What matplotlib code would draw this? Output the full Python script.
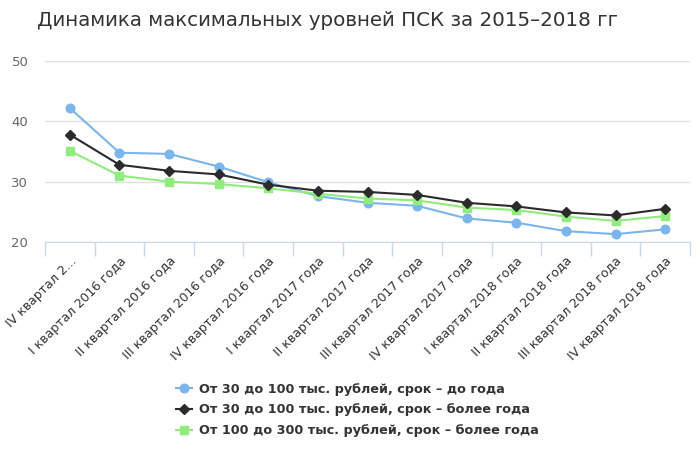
import matplotlib
matplotlib.use("Agg")
import matplotlib.pyplot as plt
import numpy as np

categories = ["IV квартал 2...", "I квартал 2016 года", "II квартал 2016 года",
              "III квартал 2016 года", "IV квартал 2016 года", "I квартал 2017 года",
              "II квартал 2017 года", "III квартал 2017 года", "IV квартал 2017 года",
              "I квартал 2018 года", "II квартал 2018 года", "III квартал 2018 года",
              "IV квартал 2018 года"]
series_names = ["От 30 до 100 тыс. рублей, срок – до года",
                "От 30 до 100 тыс. рублей, срок – более года",
                "От 100 до 300 тыс. рублей, срок – более года"]
s1 = [42.2, 34.8, 34.6, 32.5, 29.9, 27.6, 26.5, 26.0, 23.9, 23.2, 21.8, 21.3, 22.1]
s2 = [37.8, 32.8, 31.8, 31.2, 29.5, 28.5, 28.3, 27.8, 26.5, 25.9, 24.9, 24.4, 25.5]
s3 = [35.1, 31.0, 30.0, 29.6, 28.9, 28.0, 27.2, 26.9, 25.7, 25.3, 24.2, 23.5, 24.3]
yticks = [20, 30, 40, 50]

plt.rcParams['font.family'] = ['DejaVu Sans']
fig = plt.figure(figsize=(7, 4.66), dpi=100)
ax = fig.add_axes([45/700, 1-242/466, 645/700, (242-61)/466])

x = np.arange(len(categories))
ax.plot(x, s1, color='#7cb5ec', lw=1.5, marker='o', ms=6.2, mec='#7cb5ec', label=series_names[0], zorder=3)
ax.plot(x, s2, color='#2b2b2b', lw=1.5, marker='D', ms=4.6, label=series_names[1], zorder=4)
ax.plot(x, s3, color='#90ed7d', lw=1.5, marker='s', ms=5.8, label=series_names[2], zorder=3)

ax.set_xlim(-0.5, len(categories) - 0.5)
ax.set_ylim(20, 50)
ax.set_yticks(yticks)
ax.set_yticklabels([str(v) for v in yticks], color='#666666', fontsize=9.5)
ax.yaxis.grid(True, color='#e0e0e0', lw=1)
ax.set_axisbelow(True)
ax.tick_params(axis='y', length=0, pad=12)
for sp in ['top', 'right', 'left']:
    ax.spines[sp].set_visible(False)
ax.spines['bottom'].set_color('#ccd6eb')

ax.set_xticks(x)
ax.set_xticklabels(categories, rotation=45, ha='right', va='top', rotation_mode='anchor',
                   fontsize=9, color='#333333')
ax.tick_params(axis='x', which='major', length=0, pad=9)
ax.set_xticks(np.arange(-0.5, len(categories)), minor=True)
ax.tick_params(axis='x', which='minor', length=10, color='#ccd6eb', width=1)

fig.text(37/700, 1-21/466, "Динамика максимальных уровней ПСК за 2015–2018 гг",
         fontsize=14.3, color='#333333', va='center', ha='left')

leg = fig.legend(loc='center', bbox_to_anchor=(357/700, 1-410/466), frameon=False,
                 prop={'weight': 'bold', 'size': 9.2}, handlelength=1.3, labelspacing=0.62,
                 handletextpad=0.5, labelcolor='#333333', markerscale=1.0)

fig.savefig("out.png", dpi=100, facecolor='white')
